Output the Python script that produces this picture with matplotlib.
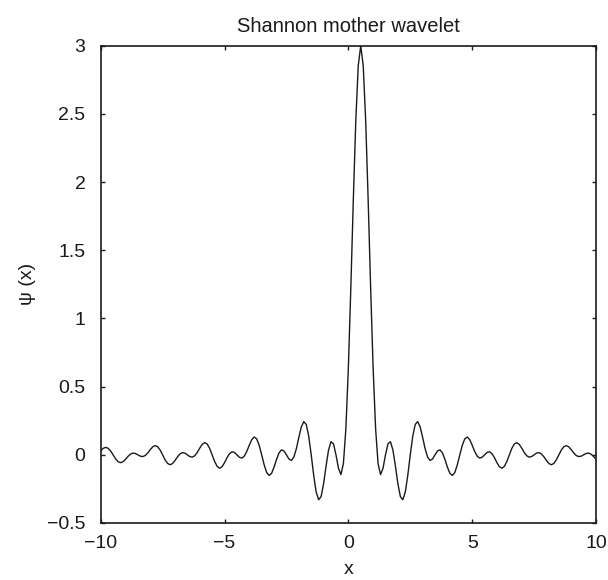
import numpy as np
import matplotlib
matplotlib.use("Agg")
import matplotlib.pyplot as plt

plt.rcParams['font.family'] = ['Liberation Sans', 'DejaVu Sans']

# sample positions along x (every 0.1 from -10 to 10)
x = np.linspace(-10, 10, 201)

# psi(x) at those positions
psi = [
    0.0303, 0.0471, 0.0544, 0.0480, 0.0283, 0.0, -0.0288, -0.0500, -0.0578, -0.0510,
    -0.0335, -0.0123, 0.0049, 0.0126, 0.0098, 0.0, -0.0100, -0.0131, -0.0052, 0.0134,
    0.0374, 0.0583, 0.0675, 0.0597, 0.0352, 0.0, -0.0361, -0.0628, -0.0728, -0.0645,
    -0.0424, -0.0156, 0.0062, 0.0161, 0.0125, 0.0, -0.0129, -0.0170, -0.0068, 0.0175,
    0.0490, 0.0765, 0.0889, 0.0790, 0.0468, 0.0, -0.0484, -0.0845, -0.0983, -0.0875,
    -0.0579, -0.0214, 0.0085, 0.0222, 0.0174, 0.0, -0.0181, -0.0241, -0.0096, 0.0251,
    0.0707, 0.1113, 0.1303, 0.1166, 0.0696, 0.0, -0.0732, -0.1289, -0.1514, -0.1361,
    -0.0909, -0.0340, 0.0137, 0.0361, 0.0286, 0.0, -0.0306, -0.0413, -0.0168, 0.0445,
    0.1273, 0.2041, 0.2436, 0.2227, 0.1359, 0.0, -0.1502, -0.2721, -0.3296, -0.3062,
    -0.2122, -0.0826, 0.0348, 0.0964, 0.0807, 0.0, -0.0986, -0.1446, -0.0646, 0.1927,
    0.6366, 1.2246, 1.8675, 2.4492, 2.8546, 3.0, 2.8546, 2.4492, 1.8675, 1.2246,
    0.6366, 0.1927, -0.0646, -0.1446, -0.0986, 0.0, 0.0807, 0.0964, 0.0348, -0.0826,
    -0.2122, -0.3062, -0.3296, -0.2721, -0.1502, 0.0, 0.1359, 0.2227, 0.2436, 0.2041,
    0.1273, 0.0445, -0.0168, -0.0413, -0.0306, 0.0, 0.0286, 0.0361, 0.0137, -0.0340,
    -0.0909, -0.1361, -0.1514, -0.1289, -0.0732, 0.0, 0.0696, 0.1166, 0.1303, 0.1113,
    0.0707, 0.0251, -0.0096, -0.0241, -0.0181, 0.0, 0.0174, 0.0222, 0.0085, -0.0214,
    -0.0579, -0.0875, -0.0983, -0.0845, -0.0484, 0.0, 0.0468, 0.0790, 0.0889, 0.0765,
    0.0490, 0.0175, -0.0068, -0.0170, -0.0129, 0.0, 0.0125, 0.0161, 0.0062, -0.0156,
    -0.0424, -0.0645, -0.0728, -0.0628, -0.0361, 0.0, 0.0352, 0.0597, 0.0675, 0.0583,
    0.0374, 0.0134, -0.0052, -0.0131, -0.0100, 0.0, 0.0098, 0.0126, 0.0049, -0.0123,
    -0.0335,
]

xticks = [-10, -5, 0, 5, 10]
yticks = [-0.5, 0, 0.5, 1, 1.5, 2, 2.5, 3]

fig = plt.figure(figsize=(6.08, 5.8), dpi=100)
ax = fig.add_axes([0.1656, 0.0983, 0.8147, 0.8229])

ax.plot(x, psi, color='#1a1a1a', lw=1.0)

ax.set_xlim(-10, 10)
ax.set_ylim(-0.5, 3)
ax.set_xticks(xticks)
ax.set_yticks(yticks)
ax.set_yticklabels(['\u22120.5', '0', '0.5', '1', '1.5', '2', '2.5', '3'])

ax.tick_params(direction='in', top=True, right=True, length=3, width=1.0,
               labelsize=14, colors='#1a1a1a')
ax.tick_params(axis='y', pad=11)
ax.tick_params(axis='x', pad=9)
for s in ax.spines.values():
    s.set_linewidth(1.2)
    s.set_color('#1a1a1a')

ax.set_title('Shannon mother wavelet', fontsize=14.5, color='#1a1a1a', pad=10)
ax.set_xlabel('x', fontsize=14, color='#1a1a1a', labelpad=6)
ax.set_ylabel('\u03c8 (x)', fontsize=14, color='#1a1a1a', labelpad=8)

fig.savefig('out.png', dpi=100)
